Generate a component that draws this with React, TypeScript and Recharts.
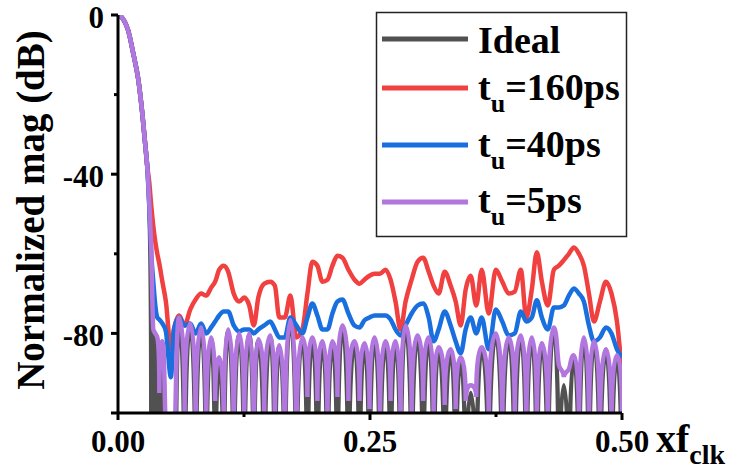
import { LineChart, Line, XAxis, YAxis } from 'recharts'

// frequency grid (x f_clk): main lobe, then side-lobe peaks/nulls
const freq = [
  0, 0.005, 0.01, 0.015, 0.02, 0.024, 0.027, 0.029, 0.031, 0.033,
  0.035, 0.037, 0.039, 0.041, 0.044, 0.0475, 0.0525, 0.0555,
  0.0606, 0.0661, 0.0716, 0.077, 0.0825, 0.0875, 0.0924, 0.0964, 0.1004, 0.1049,
  0.1093, 0.1148, 0.1203, 0.1252, 0.1302, 0.1347, 0.1392, 0.1451, 0.1511, 0.1556,
  0.16, 0.1655, 0.171, 0.1769, 0.1829, 0.1879, 0.1928, 0.1978, 0.2028, 0.2078,
  0.2127, 0.2177, 0.2227, 0.2286, 0.2346, 0.2396, 0.2445, 0.2495, 0.2545, 0.2599,
  0.2654, 0.2704, 0.2753, 0.2803, 0.2853, 0.2913, 0.2972, 0.3027, 0.3082, 0.3131,
  0.3181, 0.3241, 0.33, 0.335, 0.34, 0.3449, 0.3499, 0.3554, 0.3608, 0.3678,
  0.3748, 0.3812, 0.3877, 0.3936, 0.3996, 0.4051, 0.4105, 0.4155, 0.4205, 0.4264,
  0.4324, 0.4374, 0.4423, 0.4473, 0.4523, 0.4573, 0.4622, 0.4672, 0.4722, 0.4781,
  0.4841, 0.4896, 0.495, 0.5,
]

const ideal = [
  0, -1, -3.8, -9.5, -16, -24.5, -32.5, -38, -47, -100,
  -80, -100, -82, -118, -83, -125, -130, -130,
  -76.5, -130, -78, -130, -79, -130, -81.5, -130, -87, -130,
  -79.5, -130, -80.5, -130, -80.5, -130, -82, -130, -81, -130,
  -83.5, -130, -77, -130, -81.5, -130, -81.5, -130, -82.5, -130,
  -82.5, -130, -78.5, -130, -82.5, -130, -83, -130, -81.5, -130,
  -82.5, -130, -82.5, -130, -78.5, -130, -81, -130, -81.5, -130,
  -84, -130, -84.5, -130, -86.5, -130, -95, -130, -84, -130,
  -80.5, -130, -81.5, -130, -81, -130, -81.5, -130, -83, -130,
  -79, -130, -93, -130, -86, -130, -81.5, -130, -82.5, -130,
  -84.5, -130, -86, -130,
]

const tu160 = [
  0, -1, -3.8, -9.5, -16, -24.5, -32.5, -38, -42, -48,
  -53, -57, -60, -62.5, -67, -72, -84, -79,
  -75.5, -78, -74, -71.5, -70, -70.5, -68.5, -67, -64, -63,
  -64.5, -70, -72, -71, -73, -78, -71, -67.5, -67, -68,
  -76, -76, -70.5, -81, -79, -70, -62, -63, -67, -66.5,
  -63, -60.5, -61, -64, -66.5, -67.5, -66.5, -65.5, -65, -65,
  -64, -66.5, -72, -79, -72, -66.5, -62, -61, -64.5, -68,
  -70, -64.5, -68, -72, -78, -69, -65.5, -73, -64, -75,
  -64, -67, -70, -69.5, -64, -76, -69, -59.6, -67, -73,
  -64, -63, -61.6, -60, -58.4, -60, -63, -70, -77, -72,
  -67, -70, -77, -90,
]

const tu40 = [
  0, -1, -3.8, -9.5, -16, -24.5, -32.5, -38, -48, -60,
  -67, -73, -76, -76.5, -77.5, -79.5, -91, -79,
  -76, -78, -77.5, -80, -77.5, -80, -78.5, -77, -75.5, -74.5,
  -74.5, -78, -79.5, -79, -79, -80, -79, -78, -77, -79,
  -81, -81, -76, -78, -80, -76, -72.5, -75.5, -79, -79,
  -75, -72, -71.5, -75, -78, -78.5, -76.7, -76, -75.5, -75.5,
  -75.5, -76.5, -79, -80.5, -78, -75, -73, -72.5, -76, -82,
  -79, -74.5, -78, -82, -85, -79, -76, -80, -76, -84,
  -74, -77, -80.5, -80, -74.5, -77, -76, -71.7, -76, -79,
  -73.5, -73.5, -73, -70.5, -68.7, -70, -72, -78, -82, -81,
  -78.5, -80, -84, -86,
]

const tu5 = [
  0, -1, -3.8, -9.5, -16, -24.5, -32.5, -38, -47, -59,
  -79, -80, -81, -95, -82, -104, -112, -110,
  -76, -100, -77.5, -104, -78.5, -105, -81, -97, -86, -104,
  -79, -108, -80, -104, -80, -110, -81.5, -100, -80.5, -102,
  -83, -112, -76.7, -112, -81, -96, -81, -97, -82, -103,
  -82, -96, -78, -97, -82, -97, -82.5, -99, -81, -102,
  -82, -97, -82, -104, -78, -100, -80.5, -97, -81, -100,
  -83.5, -98, -84, -99, -86, -97, -93, -96, -83.5, -102,
  -80, -104, -81, -100, -80.5, -104, -81, -102, -82.5, -104,
  -78.5, -88, -91, -89, -85.5, -104, -81, -104, -82, -106,
  -84, -104, -85.5, -100,
]

const yTicks = [-100, -80, -60, -40, -20, 0]
const yLabels = [0, -40, -80]
const xTicks = [0, 0.125, 0.25, 0.375, 0.5]
const xLabels = [0, 0.25, 0.5]

const data = freq.map((f, i) => ({
  f,
  ideal: ideal[i],
  t160: tu160[i],
  t40: tu40[i],
  t5: tu5[i],
}))

// dB side lobes: flat round tops at local maxima, vertical cusps at nulls
function lobeCurve(context: any) {
  let xs: number[] = []
  let ys: number[] = []
  return {
    areaStart() {},
    areaEnd() {},
    lineStart() {
      xs = []
      ys = []
    },
    point(x: number, y: number) {
      xs.push(+x)
      ys.push(+y)
    },
    lineEnd() {
      const n = xs.length
      if (!n) return
      context.moveTo(xs[0], ys[0])
      const kind = ys.map((y, i) => {
        const a = i > 0 ? ys[i - 1] : null
        const b = i < n - 1 ? ys[i + 1] : null
        if ((a === null || y < a) && (b === null || y < b)) return 'top'
        if ((a === null || y > a) && (b === null || y > b)) return 'dip'
        return 'mid'
      })
      const slope = (i: number) => {
        if (i <= 0 || i >= n - 1) return 0
        const s0 = (ys[i] - ys[i - 1]) / (xs[i] - xs[i - 1])
        const s1 = (ys[i + 1] - ys[i]) / (xs[i + 1] - xs[i])
        return s0 * s1 <= 0 ? 0 : (2 * s0 * s1) / (s0 + s1)
      }
      for (let i = 0; i < n - 1; i++) {
        const x0 = xs[i], y0 = ys[i], x1 = xs[i + 1], y1 = ys[i + 1]
        const dx = x1 - x0
        const dy = y1 - y0
        let c1x, c1y, c2x, c2y
        if (kind[i] === 'top') {
          c1x = x0 + 0.6 * dx
          c1y = y0
        } else if (kind[i] === 'dip') {
          c1x = x0
          c1y = y0 + 0.6 * dy
        } else {
          c1x = x0 + dx / 3
          c1y = y0 + (slope(i) * dx) / 3
        }
        if (kind[i + 1] === 'top') {
          c2x = x1 - 0.6 * dx
          c2y = y1
        } else if (kind[i + 1] === 'dip') {
          c2x = x1
          c2y = y1 - 0.6 * dy
        } else {
          c2x = x1 - dx / 3
          c2y = y1 - (slope(i + 1) * dx) / 3
        }
        context.bezierCurveTo(c1x, c1y, c2x, c2y, x1, y1)
      }
    },
  }
}

const series = [
  { key: 'ideal', color: '#515151', name: 'Ideal', sub: '', curve: lobeCurve as any },
  { key: 't160', color: '#F14040', name: '=160ps', sub: 'u', curve: 'monotone' },
  { key: 't40', color: '#1A6FDF', name: '=40ps', sub: 'u', curve: 'monotone' },
  { key: 't5', color: '#B177DE', name: '=5ps', sub: 'u', curve: lobeCurve as any },
]

const FONT = "'Liberation Serif', 'Times New Roman', serif"

function YTick({ x, y, payload }: any) {
  const v = payload.value
  const major = yLabels.includes(v) || v === -100
  return (
    <g>
      <line x1={x} x2={x - (major ? 7 : 4)} y1={y} y2={y} stroke="#000" strokeWidth={3} />
      {yLabels.includes(v) && (
        <text x={x - 14} y={y} dy={13} textAnchor="end" fontFamily={FONT} fontWeight="bold" fontSize={31} fill="#000">
          {v}
        </text>
      )}
    </g>
  )
}

function XTick({ x, y, payload }: any) {
  const v = payload.value
  const major = xLabels.includes(v)
  return (
    <g>
      <line x1={x} x2={x} y1={y} y2={y + (major ? 7 : 4)} stroke="#000" strokeWidth={3} />
      {major && (
        <text x={x} y={y + 39} textAnchor="middle" fontFamily={FONT} fontWeight="bold" fontSize={31} fill="#000">
          {v.toFixed(2)}
        </text>
      )}
    </g>
  )
}

// legend rows: sample line y and text baseline
const legendRows = [
  { lineY: 39, base: 53 },
  { lineY: 88, base: 100 },
  { lineY: 145, base: 157 },
  { lineY: 202, base: 213 },
]

export default function App() {
  return (
    <div style={{ position: 'absolute', left: 0, top: 0, width: 733, height: 470, background: '#fff' }}>
      <LineChart width={733} height={470} data={data} margin={{ top: 15, right: 111, bottom: 0, left: 0 }}>
        <XAxis
          dataKey="f"
          type="number"
          domain={[0, 0.5]}
          ticks={xTicks}
          interval={0}
          height={57}
          tickSize={0}
          tickMargin={0}
          tickLine={false}
          tick={<XTick />}
          axisLine={{ stroke: '#000', strokeWidth: 3 }}
          allowDataOverflow
        />
        <YAxis
          type="number"
          domain={[-100, 0]}
          ticks={yTicks}
          interval={0}
          width={118}
          tickSize={0}
          tickMargin={0}
          tickLine={false}
          tick={<YTick />}
          axisLine={{ stroke: '#000', strokeWidth: 3 }}
          allowDataOverflow
        />
        {series.map((s) => (
          <Line
            key={s.key}
            dataKey={s.key}
            type={s.curve}
            stroke={s.color}
            strokeWidth={4.5}
            dot={false}
            activeDot={false}
            isAnimationActive={false}
          />
        ))}
      </LineChart>

      <svg
        width={733}
        height={470}
        style={{ position: 'absolute', left: 0, top: 0, pointerEvents: 'none' }}
        fontFamily={FONT}
        fontWeight="bold"
      >
        <text x={44} y={210} transform="rotate(-90 44 210)" textAnchor="middle" fontSize={39} fill="#000">
          Normalized mag (dB)
        </text>
        <text x={656} y={452} fontSize={40} fill="#000">
          xf
          <tspan dy={12} fontSize={28}>clk</tspan>
        </text>

        <rect x={376.5} y={12.5} width={250} height={224} fill="#fff" stroke="#222" strokeWidth={1.5} />
        {series.map((s, i) => (
          <g key={s.key}>
            <line x1={382} x2={468} y1={legendRows[i].lineY} y2={legendRows[i].lineY} stroke={s.color} strokeWidth={5} />
            {s.sub ? (
              <text x={478} y={legendRows[i].base} fontSize={38} fill="#000">
                t
                <tspan dy={12} fontSize={26}>{s.sub}</tspan>
                <tspan dy={-12}>{s.name}</tspan>
              </text>
            ) : (
              <text x={478} y={legendRows[i].base} fontSize={38} fill="#000">
                {s.name}
              </text>
            )}
          </g>
        ))}
      </svg>
    </div>
  )
}
